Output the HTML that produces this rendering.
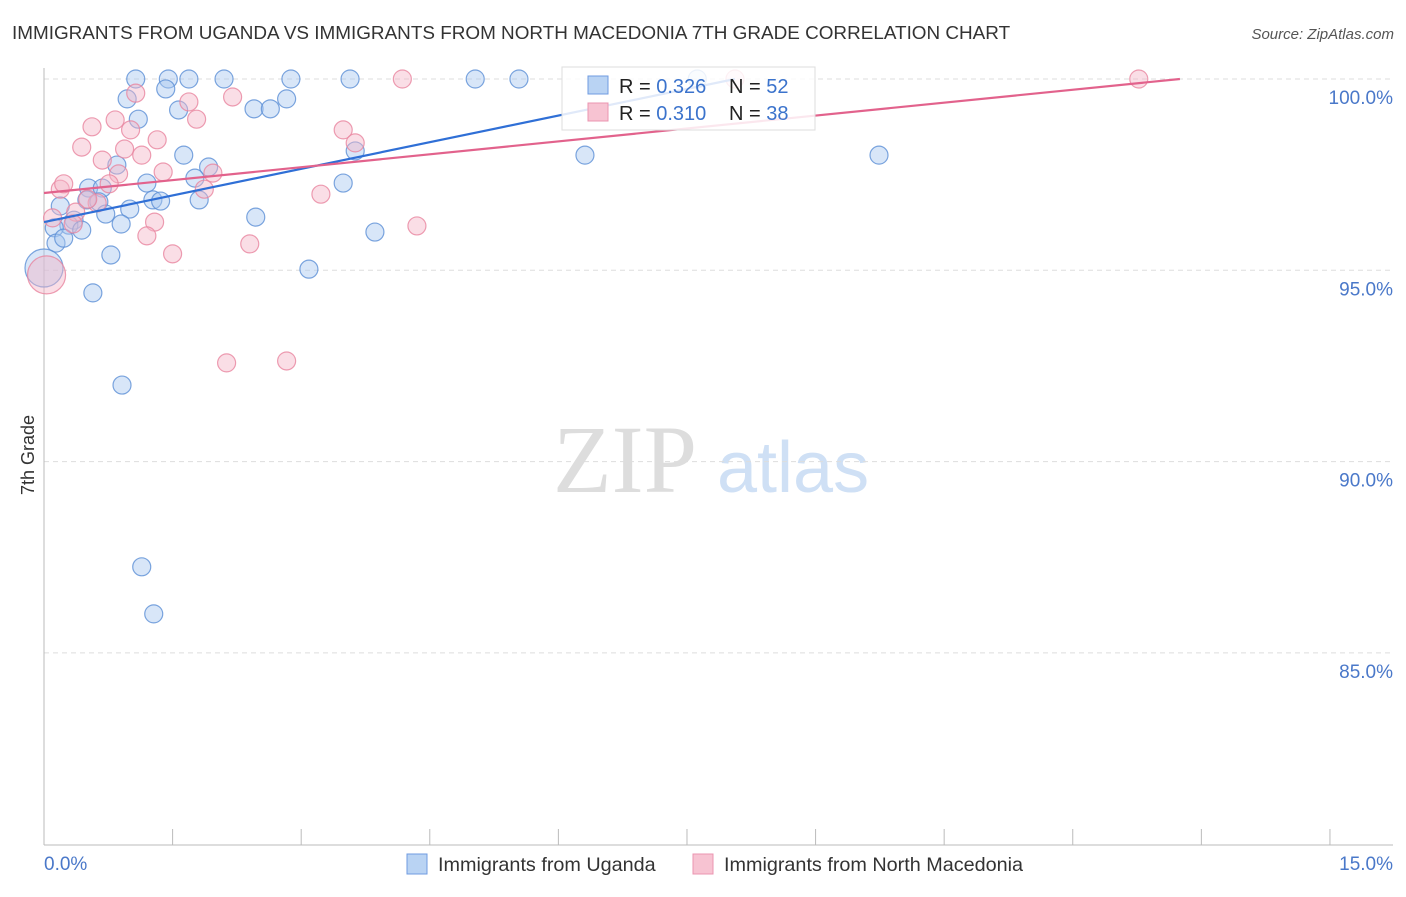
<!DOCTYPE html>
<html><head><meta charset="utf-8"><style>
body{margin:0;background:#fff;font-family:"Liberation Sans",sans-serif}
</style></head><body>
<svg width="1406" height="892" viewBox="0 0 1406 892" xmlns="http://www.w3.org/2000/svg" style="font-family:'Liberation Sans',sans-serif">
<text x="12" y="39" font-size="18.9" fill="#333">IMMIGRANTS FROM UGANDA VS IMMIGRANTS FROM NORTH MACEDONIA 7TH GRADE CORRELATION CHART</text>
<text x="1394" y="39" font-size="15" fill="#555" font-style="italic" text-anchor="end">Source: ZipAtlas.com</text>
<g>
<text x="553" y="492" font-size="96" font-family="'Liberation Serif',serif" fill="#ddd">ZIP</text>
<text x="717" y="492" font-size="72" fill="#cfe0f5">atlas</text>
</g>
<g id="grid"></g>
<g id="axes"></g>
<g id="marks"></g>
<g id="trend"></g>
<text transform="translate(34,455) rotate(-90)" font-size="18" fill="#333" text-anchor="middle">7th Grade</text>
<g>
<rect x="562" y="67" width="253" height="63" fill="#fff" fill-opacity="0.85" stroke="#ddd"/>
<rect x="588" y="76" width="20" height="18" fill="#b9d3f3" stroke="#6f9be0"/>
<rect x="588" y="103" width="20" height="18" fill="#f7c3d2" stroke="#eb94b0"/>
<text x="619" y="93" font-size="20" fill="#222">R = <tspan fill="#3b73cc">0.326</tspan></text>
<text x="729" y="93" font-size="20" fill="#222">N = <tspan fill="#3b73cc">52</tspan></text>
<text x="619" y="120" font-size="20" fill="#222">R = <tspan fill="#3b73cc">0.310</tspan></text>
<text x="729" y="120" font-size="20" fill="#222">N = <tspan fill="#3b73cc">38</tspan></text>
</g>
<g>
<rect x="407" y="854" width="20" height="20" fill="#b9d3f3" stroke="#6f9be0"/>
<text x="438" y="871" font-size="19.8" fill="#333">Immigrants from Uganda</text>
<rect x="693" y="854" width="20" height="20" fill="#f7c3d2" stroke="#eb94b0"/>
<text x="724" y="871" font-size="19.8" fill="#333">Immigrants from North Macedonia</text>
</g>
</svg>
<script>
const yTicks=[100,95,90,85];
const yTickLabels=["100.0%","95.0%","90.0%","85.0%"];
const xTickCount=[0,1.5,3,4.5,6,7.5,9,10.5,12,13.5,15];
const blueX=[1.07,1.45,1.69,2.10,2.88,3.57,5.03,5.54,7.62,1.42,0.97,1.57,1.10,2.45,2.64,2.83,1.63,0.85,1.92,6.31,9.74,3.63,3.49,1.20,1.76,0.52,0.68,0.19,0.50,0.64,1.27,1.36,1.81,1.00,0.72,0.90,0.35,0.29,0.44,0.12,0.14,0.23,2.47,3.86,0.78,3.09,0.00,0.57,0.91,1.14,1.28];
const blueY=[100,100,100,100,100,100,100,100,100,99.74,99.48,99.19,98.95,99.22,99.22,99.48,98.01,97.75,97.70,98.01,98.01,98.12,97.28,97.28,97.41,97.15,97.15,96.68,96.84,96.79,96.84,96.81,96.84,96.60,96.47,96.21,96.31,96.18,96.05,96.11,95.71,95.84,96.39,96.00,95.40,95.03,95.06,94.41,92.00,87.25,86.02];
const pinkX=[4.18,12.77,8.06,1.07,2.20,1.69,1.78,0.56,0.83,1.01,0.44,1.32,0.94,3.49,3.63,0.68,1.14,0.87,1.39,1.97,0.76,0.19,0.23,1.87,3.23,0.62,0.51,0.37,0.34,1.29,1.20,2.40,4.35,1.50,0.03,2.13,2.83,0.10];
const pinkY=[100,100,100,99.63,99.53,99.40,98.95,98.75,98.93,98.67,98.22,98.41,98.17,98.67,98.33,97.88,98.01,97.52,97.57,97.54,97.26,97.12,97.26,97.12,96.99,96.76,96.86,96.52,96.21,96.26,95.90,95.69,96.16,95.43,94.88,92.58,92.63,96.37];
const blueTrend=[0,96.26,8.06,100];
const pinkTrend=[0,97.02,13.25,100];
const NS="http://www.w3.org/2000/svg";
const X=v=>44+v*85.73, Y=v=>79+(100-v)*38.26;
function mk(t,a,p){const e=document.createElementNS(NS,t);for(const k in a)e.setAttribute(k,a[k]);document.getElementById(p).appendChild(e);return e;}
yTicks.forEach((t,i)=>{
 const l=mk('line',{x1:44,x2:1393,y1:Y(t),y2:Y(t),stroke:'#ddd','stroke-dasharray':'5,4'},'grid');
 
 
 const tx=mk('text',{x:1393,y:Y(t)+25,'font-size':19,fill:'#4a78c9','text-anchor':'end'},'grid');
 tx.textContent=yTickLabels[i];
 
 
});
let a=mk('line',{x1:44,x2:44,y1:68,y2:845,stroke:'#bbb'},'axes');


a=mk('line',{x1:44,x2:1393,y1:845,y2:845,stroke:'#bbb'},'axes');


xTickCount.forEach(t=>{const l=mk('line',{x1:X(t),x2:X(t),y1:829,y2:845,stroke:'#bbb'},'axes');
 
 });
let t=mk('text',{x:44,y:870,'font-size':19,fill:'#4a78c9'},'axes');t.textContent='0.0%';


t=mk('text',{x:1393,y:870,'font-size':19,fill:'#4a78c9','text-anchor':'end'},'axes');t.textContent='15.0%';


function pts(xs,ys,fill,stroke,name){xs.forEach((x,i)=>{const big=(x<0.05&&ys[i]<95.2);
 const c=mk('circle',{cx:X(x),cy:Y(ys[i]),r:big?19:9,fill:fill,'fill-opacity':0.45,stroke:stroke,'stroke-width':1.2,'stroke-opacity':0.8},'marks');
 
 });}
pts(blueX,blueY,'#a9c8f0','#5b8fd6','uganda-point');
pts(pinkX,pinkY,'#f5b5c8','#e8859f','macedonia-point');
let tl=mk('line',{x1:X(blueTrend[0]),y1:Y(blueTrend[1]),x2:X(blueTrend[2]),y2:Y(blueTrend[3]),stroke:'#2f6fd6','stroke-width':2.2},'trend');


tl=mk('line',{x1:X(pinkTrend[0]),y1:Y(pinkTrend[1]),x2:X(pinkTrend[2]),y2:Y(pinkTrend[3]),stroke:'#e2628c','stroke-width':2.2},'trend');


</script>
</body></html>
